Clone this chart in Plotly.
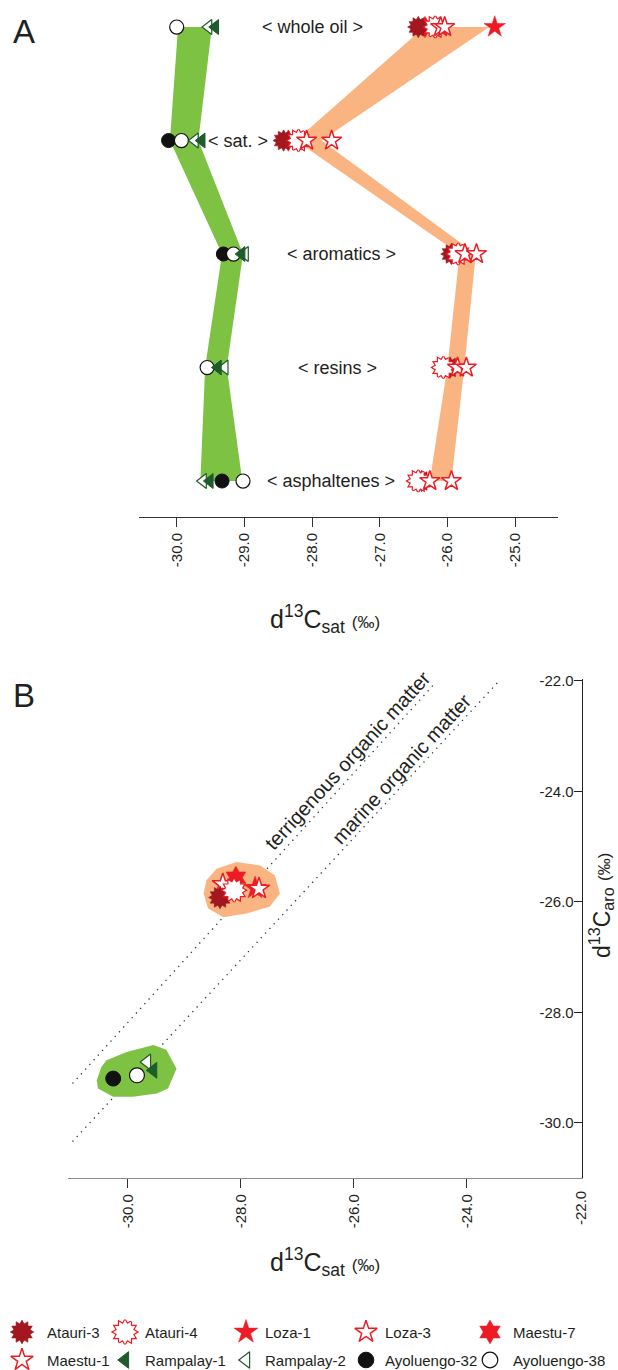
import plotly.graph_objects as go

# ---------------- DATA ----------------
fractions = ["whole oil", "sat.", "aromatics", "resins", "asphaltenes"]
frac_pos = [0, 1, 2, 3, 4]
frac_label_x = [-28.0, -29.09, -27.57, -27.62, -27.72]

samples = ["Atauri-3", "Atauri-4", "Loza-1", "Loza-3", "Maestu-7",
           "Maestu-1", "Rampalay-1", "Rampalay-2", "Ayoluengo-32", "Ayoluengo-38"]

# Panel A: d13C of each fraction (whole oil, sat., aromatics, resins, asphaltenes)
atauri3_A = [-26.43, -28.42, -25.94, -25.96, -26.38]
atauri4_A = [-26.18, -28.20, -25.84, -26.06, -26.43]
loza1_A = [-25.30, None, None, None, None]
loza3_A = [-26.04, -27.71, -25.57, -25.72, -25.94]
maestu7_A = [-26.33, -28.35, None, None, None]
maestu1_A = [-26.10, -28.08, -25.74, -25.85, -26.26]
rampalay1_A = [-29.43, -29.63, -29.04, -29.39, -29.51]
rampalay2_A = [-29.53, -29.73, -28.99, -29.29, -29.61]
ayoluengo32_A = [None, -30.12, -29.31, None, -29.33]
ayoluengo38_A = [-30.00, -29.93, -29.16, -29.55, -29.02]

green_band_left = [-29.98, -30.10, -29.33, -29.58, -29.65]
green_band_right = [-29.48, -29.68, -29.02, -29.26, -29.03]
orange_band_left = [-26.34, -28.24, -25.82, -26.00, -26.26]
orange_band_right = [-25.38, -27.86, -25.58, -25.75, -25.94]

# Panel B: d13C sat vs d13C aro
sat_B = [-28.37, -28.12, -27.75, -27.68, -28.09, -28.32, -29.55, -29.66, -30.26, -29.84]
aro_B = [-25.92, -25.79, -25.75, -25.76, -25.56, -25.68, -29.05, -28.90, -29.20, -29.14]

orange_hull_x = [-28.61, -28.43, -28.08, -27.66, -27.40, -27.31, -27.49, -27.90, -28.31, -28.58, -28.66]
orange_hull_y = [-25.61, -25.40, -25.28, -25.34, -25.52, -25.85, -26.09, -26.21, -26.28, -26.12, -25.85]
green_hull_x = [-30.38, -30.02, -29.55, -29.32, -29.14, -29.29, -29.49, -29.91, -30.26, -30.53, -30.55, -30.47]
green_hull_y = [-28.87, -28.72, -28.59, -28.68, -29.02, -29.38, -29.47, -29.53, -29.53, -29.38, -29.23, -28.99]

terr_line_x = [-30.98, -24.60]
terr_line_y = [-29.29, -22.08]
marine_line_x = [-30.98, -23.45]
marine_line_y = [-30.34, -22.02]

xticks_A = [-30, -29, -28, -27, -26, -25]
xticklabels_A = ["-30.0", "-29.0", "-28.0", "-27.0", "-26.0", "-25.0"]
ticks_B = [-30, -28, -26, -24, -22]
ticklabels_B = ["-30.0", "-28.0", "-26.0", "-24.0", "-22.0"]

# ---------------- STYLE ----------------
FONT = "Liberation Sans, Arial, sans-serif"
TXT = "#231f20"
RED = "#ed1c24"
DRED = "#a3171e"
DGREEN = "#1e5c2c"
GREEN_FILL = "#7dc242"
ORANGE_FILL = "#f9b482"

style = {
    "Atauri-3": "burst_filled", "Atauri-4": "burst_open", "Loza-1": "star_filled",
    "Loza-3": "star_open", "Maestu-7": "hex_filled", "Maestu-1": "star_open",
    "Rampalay-1": "tri_filled", "Rampalay-2": "tri_open",
    "Ayoluengo-32": "circle_filled", "Ayoluengo-38": "circle_open",
}


def layers(kind, s):
    """list of marker dicts for a sample symbol, s = scale"""
    if kind == "burst_filled":
        return [dict(symbol="hexagram", size=15 * s, angle=0, color=DRED, line=dict(width=0.6, color=DRED)),
                dict(symbol="hexagram", size=15 * s, angle=30, color=DRED, line=dict(width=0.6, color=DRED))]
    if kind == "burst_open":
        return [dict(symbol="hexagram", size=15 * s, angle=0, color="white", line=dict(width=2.4, color=RED)),
                dict(symbol="hexagram", size=15 * s, angle=30, color="white", line=dict(width=2.4, color=RED)),
                dict(symbol="hexagram", size=15 * s, angle=0, color="white", line=dict(width=0)),
                dict(symbol="hexagram", size=15 * s, angle=30, color="white", line=dict(width=0))]
    if kind == "star_filled":
        return [dict(symbol="star", size=15 * s, color=RED, line=dict(width=0.5, color=RED))]
    if kind == "star_open":
        return [dict(symbol="star", size=14 * s, color="white", line=dict(width=1.5, color=RED))]
    if kind == "hex_filled":
        return [dict(symbol="hexagram", size=15 * s, color=RED, line=dict(width=0.5, color=RED))]
    if kind == "tri_filled":
        return [dict(symbol="triangle-left", size=12 * s, color=DGREEN, line=dict(width=1, color=DGREEN))]
    if kind == "tri_open":
        return [dict(symbol="triangle-left", size=12 * s, color="white", line=dict(width=1.2, color=DGREEN))]
    if kind == "circle_filled":
        return [dict(symbol="circle", size=13 * s, color="#111111", line=dict(width=1, color="#111111"))]
    if kind == "circle_open":
        return [dict(symbol="circle", size=13 * s, color="white", line=dict(width=1.2, color="#111111"))]


fig = go.Figure()


def add_sample(name, xs, ys, xa, ya, s):
    for m in layers(style[name], s):
        fig.add_trace(go.Scatter(x=xs, y=ys, mode="markers", marker=m, xaxis=xa, yaxis=ya,
                                 showlegend=False, hoverinfo="skip", name=name, cliponaxis=False))


# ---------------- PANEL A ----------------
fig.add_trace(go.Scatter(x=green_band_left + green_band_right[::-1], y=frac_pos + frac_pos[::-1],
                         fill="toself", fillcolor=GREEN_FILL, line=dict(width=0), mode="lines",
                         xaxis="x", yaxis="y", showlegend=False, hoverinfo="skip"))
fig.add_trace(go.Scatter(x=orange_band_left + orange_band_right[::-1], y=frac_pos + frac_pos[::-1],
                         fill="toself", fillcolor=ORANGE_FILL, line=dict(width=0), mode="lines",
                         xaxis="x", yaxis="y", showlegend=False, hoverinfo="skip"))

valsA = {"Atauri-3": atauri3_A, "Atauri-4": atauri4_A, "Loza-1": loza1_A, "Loza-3": loza3_A,
         "Maestu-7": maestu7_A, "Maestu-1": maestu1_A, "Rampalay-1": rampalay1_A,
         "Rampalay-2": rampalay2_A, "Ayoluengo-32": ayoluengo32_A, "Ayoluengo-38": ayoluengo38_A}
orderA = ["Maestu-7", "Atauri-3", "Loza-1", "Atauri-4", "Maestu-1", "Loza-3",
          "Ayoluengo-32", "Ayoluengo-38", "Rampalay-2", "Rampalay-1"]
for nm in orderA:
    add_sample(nm, valsA[nm], frac_pos, "x", "y", 1.08)

# ---------------- PANEL B ----------------
for lx, ly in [(terr_line_x, terr_line_y), (marine_line_x, marine_line_y)]:
    fig.add_trace(go.Scatter(x=lx, y=ly, mode="lines", line=dict(color="#333333", width=1.3, dash="1.3px,5px"),
                             xaxis="x2", yaxis="y2", showlegend=False, hoverinfo="skip"))
fig.add_trace(go.Scatter(x=orange_hull_x, y=orange_hull_y, fill="toself", fillcolor=ORANGE_FILL,
                         line=dict(width=0), mode="lines", xaxis="x2", yaxis="y2", showlegend=False, hoverinfo="skip"))
fig.add_trace(go.Scatter(x=green_hull_x, y=green_hull_y, fill="toself", fillcolor=GREEN_FILL,
                         line=dict(width=0), mode="lines", xaxis="x2", yaxis="y2", showlegend=False, hoverinfo="skip"))
orderB = ["Maestu-7", "Maestu-1", "Atauri-3", "Atauri-4", "Loza-1", "Loza-3",
          "Rampalay-2", "Rampalay-1", "Ayoluengo-32", "Ayoluengo-38"]
for nm in orderB:
    i = samples.index(nm)
    add_sample(nm, [sat_B[i]], [aro_B[i]], "x2", "y2", 1.15)

# ---------------- LEGEND (manual, pixel grid) ----------------
col_icon = [22, 125, 246, 366, 490]
col_text = [45, 143, 263, 383, 511]
row_y = [1332, 1360]
annotations = []
for k, nm in enumerate(samples):
    r, c = divmod(k, 5)
    add_sample(nm, [col_icon[c]], [row_y[r]], "x3", "y3", 1.2)
    annotations.append(dict(x=col_text[c], y=row_y[r], xref="x3", yref="y3", text=nm, showarrow=False,
                            xanchor="left", yanchor="middle", font=dict(size=15, color=TXT, family=FONT)))

# fraction labels
for fx, fy, ft in zip(frac_label_x, frac_pos, fractions):
    annotations.append(dict(x=fx, y=fy, xref="x", yref="y", text="< " + ft + " >", showarrow=False,
                            xanchor="center", yanchor="middle", font=dict(size=18, color=TXT, family=FONT)))

# line labels
annotations.append(dict(x=-26.10, y=-23.44, xref="x2", yref="y2", text="terrigenous organic matter",
                        textangle=-47.5, showarrow=False, xanchor="center", yanchor="middle",
                        font=dict(size=20, color=TXT, family=FONT)))
annotations.append(dict(x=-25.16, y=-23.59, xref="x2", yref="y2", text="marine organic matter",
                        textangle=-47.5, showarrow=False, xanchor="center", yanchor="middle",
                        font=dict(size=20, color=TXT, family=FONT)))

W, H = 618, 1370
tickfont = dict(size=15, color=TXT, family=FONT)

# last x tick label of panel B sits on the corner with the y axis: drawn as an annotation
annotations.append(dict(x=ticks_B[-1], y=1 - 1189 / H, xref="x2", yref="paper", text=ticklabels_B[-1],
                        textangle=-90, showarrow=False, xanchor="center", yanchor="top", font=tickfont))

# panel letters
annotations.append(dict(x=23.5 / W, y=1 - 31 / H, xref="paper", yref="paper", text="A", showarrow=False,
                        xanchor="center", yanchor="middle", font=dict(size=33, color=TXT, family=FONT)))
annotations.append(dict(x=23.5 / W, y=1 - 695 / H, xref="paper", yref="paper", text="B", showarrow=False,
                        xanchor="center", yanchor="middle", font=dict(size=33, color=TXT, family=FONT)))

# axis titles
permil = "<span style='font-size:17px'>(‰)</span>"
title_font = dict(size=25, color=TXT, family=FONT)
annotations.append(dict(x=325 / W, y=1 - 619 / H, xref="paper", yref="paper",
                        text="d<sup>13</sup>C<sub>sat</sub> " + permil, showarrow=False,
                        xanchor="center", yanchor="middle", font=title_font))
annotations.append(dict(x=325 / W, y=1 - 1262 / H, xref="paper", yref="paper",
                        text="d<sup>13</sup>C<sub>sat</sub> " + permil, showarrow=False,
                        xanchor="center", yanchor="middle", font=title_font))
annotations.append(dict(x=601 / W, y=1 - 906 / H, xref="paper", yref="paper", textangle=-90,
                        text="d<sup>13</sup>C<sub>aro</sub> " + permil, showarrow=False,
                        xanchor="center", yanchor="middle", font=dict(size=23, color=TXT, family=FONT)))

fig.update_layout(
    width=W, height=H, margin=dict(l=0, r=0, t=0, b=0, autoexpand=False), autosize=False,
    paper_bgcolor="white", plot_bgcolor="rgba(0,0,0,0)",
    showlegend=False, annotations=annotations,
    xaxis=dict(domain=[139 / W, 558 / W], range=[-30.557, -24.365], anchor="y",
               tickvals=xticks_A, ticktext=xticklabels_A, tickangle=-90, ticks="outside", ticklen=9,
               tickcolor="#333333", showline=True, linecolor="#333333", linewidth=1,
               showgrid=False, zeroline=False, tickfont=tickfont, fixedrange=True),
    yaxis=dict(domain=[1 - 517 / H, 1 - 5 / H], range=[4.317, -0.194], visible=False, fixedrange=True),
    xaxis2=dict(domain=[68 / W, 581.7 / W], range=[-31.06, -21.97], anchor="y2",
                tickvals=ticks_B, ticktext=ticklabels_B[:-1] + [""], tickangle=-90, ticks="outside", ticklen=9,
                tickcolor="#333333", showline=True, linecolor="#8c8c8c", linewidth=1.3,
                showgrid=False, zeroline=False, tickfont=tickfont, fixedrange=True),
    yaxis2=dict(domain=[1 - 1178 / H, 1 - 679.3 / H], range=[-31.0, -21.97], anchor="x2", side="right",
                tickvals=ticks_B, ticktext=ticklabels_B, ticks="inside", ticklabelposition="inside",
                ticklen=8, tickcolor="#222222", showline=True, linecolor="#222222", linewidth=1,
                showgrid=False, zeroline=False, tickfont=tickfont, fixedrange=True,
                ticklabeloverflow="hide past div"),
    xaxis3=dict(domain=[0, 1], range=[0, W], anchor="y3", visible=False, fixedrange=True),
    yaxis3=dict(domain=[0, 62 / H], range=[H, H - 62], anchor="x3", visible=False, fixedrange=True),
)

fig.write_html("out.html", config={"responsive": False})
